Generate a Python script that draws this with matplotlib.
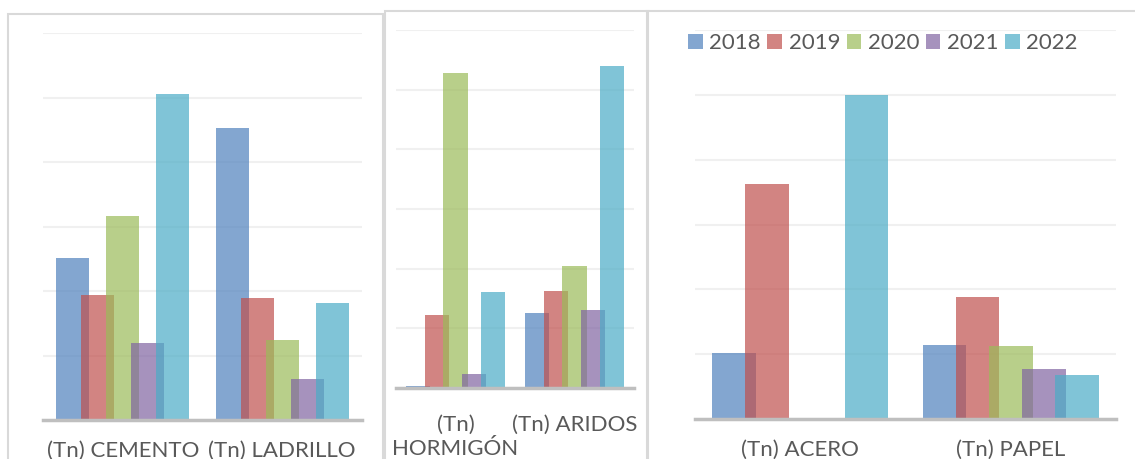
import numpy as np
import matplotlib
matplotlib.use("Agg")
import matplotlib.pyplot as plt
from matplotlib.patches import Rectangle, Patch

# values (no axis labels -> units of one gridline)
years = ["2018", "2019", "2020", "2021", "2022"]

cats_1 = ["(Tn) CEMENTO", "(Tn) LADRILLO"]
vals_1 = [
    [2.51, 4.53],   # 2018
    [1.94, 1.89],   # 2019
    [3.16, 1.24],   # 2020
    [1.19, 0.64],   # 2021
    [5.05, 1.81],   # 2022
]

cats_2 = ["(Tn)\nHORMIGÓN", "(Tn) ARIDOS"]
vals_2 = [
    [0.04, 1.26],
    [1.22, 1.62],
    [5.28, 2.04],
    [0.23, 1.30],
    [1.61, 5.39],
]

cats_3 = ["(Tn) ACERO", "(Tn) PAPEL"]
vals_3 = [
    [1.02, 1.14],
    [3.63, 1.88],
    [0.0, 1.12],
    [0.0, 0.77],
    [5.00, 0.68],
]

colors = ["#4F81BD", "#C0504D", "#9BBB59", "#8064A2", "#4BACC6"]
text_color = "#595959"
plt.rcParams['font.family'] = ['Lato', 'DejaVu Sans']

W, H = 1135, 459
fig = plt.figure(figsize=(W / 100, H / 100), dpi=100)


def add_axes(x0, x1, ytop, ybase):
    return fig.add_axes([x0 / W, 1 - ybase / H, (x1 - x0) / W, (ybase - ytop) / H])


def draw_panel(ax, cats, vals, pad, spacing=1.15):
    x = np.arange(len(cats))
    width = 0.207
    step = 0.157
    for i, v in enumerate(vals):
        offset = (i - 2) * step
        ax.bar(x + offset, v, width, color=colors[i], alpha=0.7, zorder=3)
    ax.set_xlim(-0.5, len(cats) - 0.5)
    ax.set_ylim(0, 6)
    ax.set_yticks(np.arange(0, 7, 1))
    ax.yaxis.grid(True, color="#F0F0F0", linewidth=1.5, zorder=0)
    ax.set_xticks(x)
    ax.set_xticklabels(cats, fontsize=16, color=text_color, linespacing=spacing)
    ax.tick_params(axis="x", length=0, pad=pad)
    ax.tick_params(axis="y", length=0, labelleft=False)
    for s in ["top", "left", "right"]:
        ax.spines[s].set_visible(False)
    ax.spines["bottom"].set_color("#BFBFBF")
    ax.spines["bottom"].set_linewidth(2.5)
    ax.spines["bottom"].set_zorder(4)


ax1 = add_axes(43, 362, 33, 420)
draw_panel(ax1, cats_1, vals_1, 15)

ax2 = add_axes(396, 634, 30, 388)
draw_panel(ax2, cats_2, vals_2, 19, 1.3)

ax3 = add_axes(695, 1116, 30, 419)
draw_panel(ax3, cats_3, vals_3, 15)

# chart frames
for x0, x1, ytop in [(8, 383, 14), (385, 648, 11), (647, 1150, 11)]:
    fig.patches.append(Rectangle((x0 / W, -0.1), (x1 - x0) / W, 1.1 - ytop / H,
                                 transform=fig.transFigure, fill=False,
                                 edgecolor="#D9D9D9", linewidth=1.5))

handles = [Patch(facecolor=c, alpha=0.7, edgecolor="none") for c in colors]
fig.legend(handles, years, loc="center", bbox_to_anchor=(883 / W, 1 - 43 / H),
           ncol=5, frameon=False, fontsize=16, labelcolor=text_color,
           handlelength=0.65, handleheight=0.65, handletextpad=0.3,
           columnspacing=0.3)

plt.savefig("out.png", dpi=100)
plt.close()
